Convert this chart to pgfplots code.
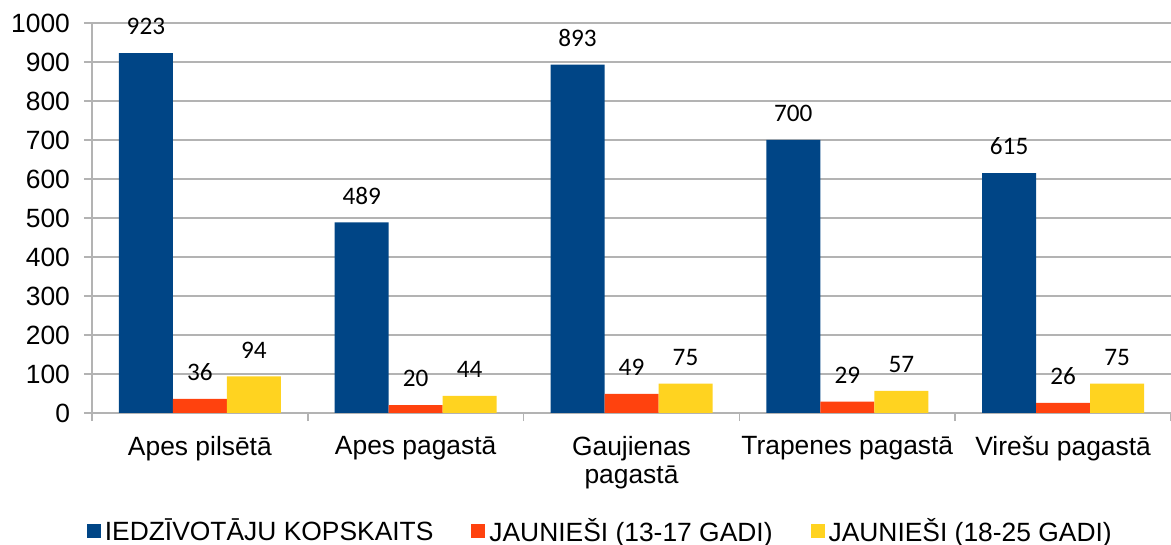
\documentclass[border=0pt]{standalone}
\usepackage{fontspec}
\setmainfont{Liberation Sans}
\newfontfamily\carlito{Carlito}
\usepackage{pgfplots}
\pgfplotsset{compat=1.18}
\definecolor{cblue}{HTML}{004586}
\definecolor{cred}{HTML}{FF420E}
\definecolor{cyel}{HTML}{FFD320}
\definecolor{cgrid}{HTML}{B3B3B3}
\pgfplotsset{
  sq/.style={legend image code/.code={\fill[##1] (0pt,-3.5pt) rectangle (7pt,3.5pt);}},
}
\begin{document}
\begin{tikzpicture}
\useasboundingbox (0,0) rectangle (585.5pt,272.5pt);
\begin{axis}[
  at={(46pt,66pt)}, anchor=south west,
  scale only axis,
  width=539.5pt, height=195pt,
  ybar=0pt, bar width=27pt,
  xmin=0.5, xmax=5.5, ymin=0, ymax=1000,
  xtick={0.5,1.5,...,5.5}, xticklabels={},
  extra x ticks={1,2,3,4,5},
  extra x tick labels={Apes pilsētā, Apes pagastā, {Gaujienas\\pagastā}, Trapenes pagastā, Virešu pagastā},
  extra x tick style={major tick length=0pt, tick style={draw=none},
    tick label style={align=center, font=\fontsize{13.2}{14}\selectfont, yshift=-8pt}},
  ytick={0,100,...,1000},
  y tick label style={font=\fontsize{13.2}{14}\selectfont, xshift=-3.5pt},
  /pgf/number format/assume math mode=true,
  /pgf/number format/1000 sep={},
  ymajorgrids, grid style={cgrid, line width=0.8pt},
  axis x line*=bottom, axis y line*=left,
  axis line style={cgrid, line width=0.8pt, -},
  tick style={cgrid, line width=0.8pt},
  tick align=outside,
  major tick length=4pt,
  nodes near coords,
  nodes near coords style={font=\carlito\fontsize{12.6}{14}\selectfont, text=black, yshift=5.5pt},
  legend style={at={(0.472,-0.3026)}, anchor=center, draw=none, legend columns=-1,
    font=\fontsize{13.2}{14}\selectfont,
    /tikz/every even column/.append style={column sep=17pt}},
]
\addplot[fill=cblue, draw=none, sq] coordinates {(1,923) (2,489) (3,893) (4,700) (5,615)};
\addplot[fill=cred, draw=none, sq] coordinates {(1,36) (2,20) (3,49) (4,29) (5,26)};
\addplot[fill=cyel, draw=none, sq] coordinates {(1,94) (2,44) (3,75) (4,57) (5,75)};
\legend{IEDZĪVOTĀJU KOPSKAITS, JAUNIEŠI (13-17 GADI), JAUNIEŠI (18-25 GADI)}
\end{axis}
\end{tikzpicture}
\end{document}
